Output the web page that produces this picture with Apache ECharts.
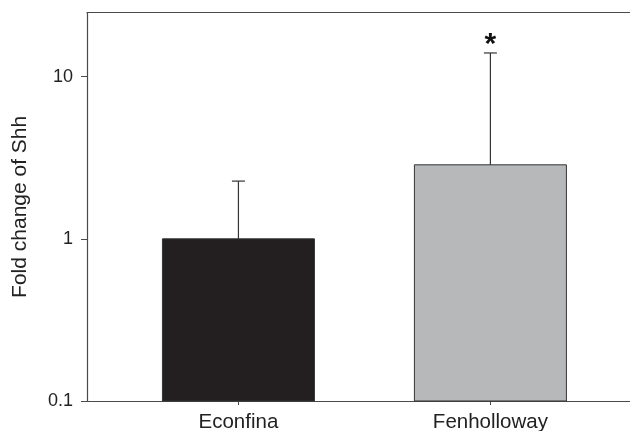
<!DOCTYPE html>
<html>
<head>
<meta charset="utf-8">
<script src="https://cdn.jsdelivr.net/npm/echarts@6/dist/echarts.min.js"></script>
<style>html,body{margin:0;padding:0;background:#fff;}#c{width:630px;height:431px;}</style>
</head>
<body>
<div id="c"></div>
<script>
var categories = ['Econfina', 'Fenholloway'];
var positions = [1, 2];
var means = [1.0, 2.86];
var upperErr = [2.27, 14.0];
var marks = ['', '*'];
var barColors = ['#231f20', '#b6b8ba'];
var yTicks = [0.1, 1, 10];
var yLabels = ['0.1', '1', '10'];

var chart = echarts.init(document.getElementById('c'));
var font = 'Liberation Sans, Arial, sans-serif';
var lineCol = '#4a4a4a';

var barData = means.map(function (v, i) {
  return [positions[i], v, upperErr[i], marks[i], i];
});

chart.setOption({
  animation: false,
  backgroundColor: '#fff',
  grid: {
    left: 87, top: 12.7, right: 0, bottom: 30,
    show: false, outerBoundsMode: 'none', containLabel: false
  },
  xAxis: [{
    type: 'value', min: 0.399, max: 2.554,
    splitLine: { show: false },
    axisLine: { show: true, onZero: false, lineStyle: { color: lineCol, width: 1.2 } },
    axisTick: { show: true, customValues: positions, length: 4, lineStyle: { color: lineCol } },
    axisLabel: {
      customValues: positions,
      formatter: function (v) { return categories[positions.indexOf(v)] || ''; },
      color: '#222', fontFamily: font, fontSize: 20.5, margin: 11
    }
  }, {
    type: 'value', position: 'top', min: 0.399, max: 2.554,
    splitLine: { show: false },
    axisLine: { show: true, onZero: false, lineStyle: { color: lineCol, width: 1.2 } },
    axisTick: { show: false }, axisLabel: { show: false }
  }],
  yAxis: {
    type: 'log', logBase: 10, min: 0.1, max: 24.8,
    name: 'Fold change of Shh', nameLocation: 'middle', nameGap: 56,
    nameTextStyle: { color: '#222', fontFamily: font, fontSize: 21 },
    splitLine: { show: false },
    axisLine: { show: true, onZero: false, lineStyle: { color: lineCol, width: 1.2 } },
    axisTick: { show: true, customValues: yTicks, length: 6, lineStyle: { color: lineCol } },
    axisLabel: {
      customValues: yTicks,
      formatter: function (v) {
        var i = yTicks.indexOf(v);
        return i >= 0 ? yLabels[i] : '';
      },
      color: '#222', fontFamily: font, fontSize: 18, margin: 14
    }
  },
  series: [
    {
      type: 'custom', data: barData, z: 5,
      renderItem: function (params, api) {
        var x = api.value(0);
        var baseP = api.coord([x, yTicks[0]]);
        var meanP = api.coord([x, api.value(1)]);
        var top = api.coord([x, api.value(2)]);
        var bw = 152;
        var cap = 6.5;
        var d = barData[params.dataIndex];
        var children = [
          { type: 'rect', shape: { x: meanP[0] - bw / 2, y: meanP[1], width: bw, height: baseP[1] - meanP[1] },
            style: { fill: barColors[d[4]], stroke: '#333', lineWidth: 1 } },
          { type: 'line', shape: { x1: meanP[0], y1: meanP[1], x2: top[0], y2: top[1] }, style: { stroke: '#333', lineWidth: 1.2 } },
          { type: 'line', shape: { x1: top[0] - cap, y1: top[1], x2: top[0] + cap, y2: top[1] }, style: { stroke: '#333', lineWidth: 1.2 } }
        ];
        if (d[3]) {
          children.push({ type: 'text', style: { text: d[3], x: top[0], y: top[1] + 7, align: 'center', verticalAlign: 'bottom', fontSize: 30, fontWeight: 'bold', fontFamily: font, fill: '#111' } });
        }
        return { type: 'group', children: children };
      }
    }
  ]
});
</script>
</body>
</html>
